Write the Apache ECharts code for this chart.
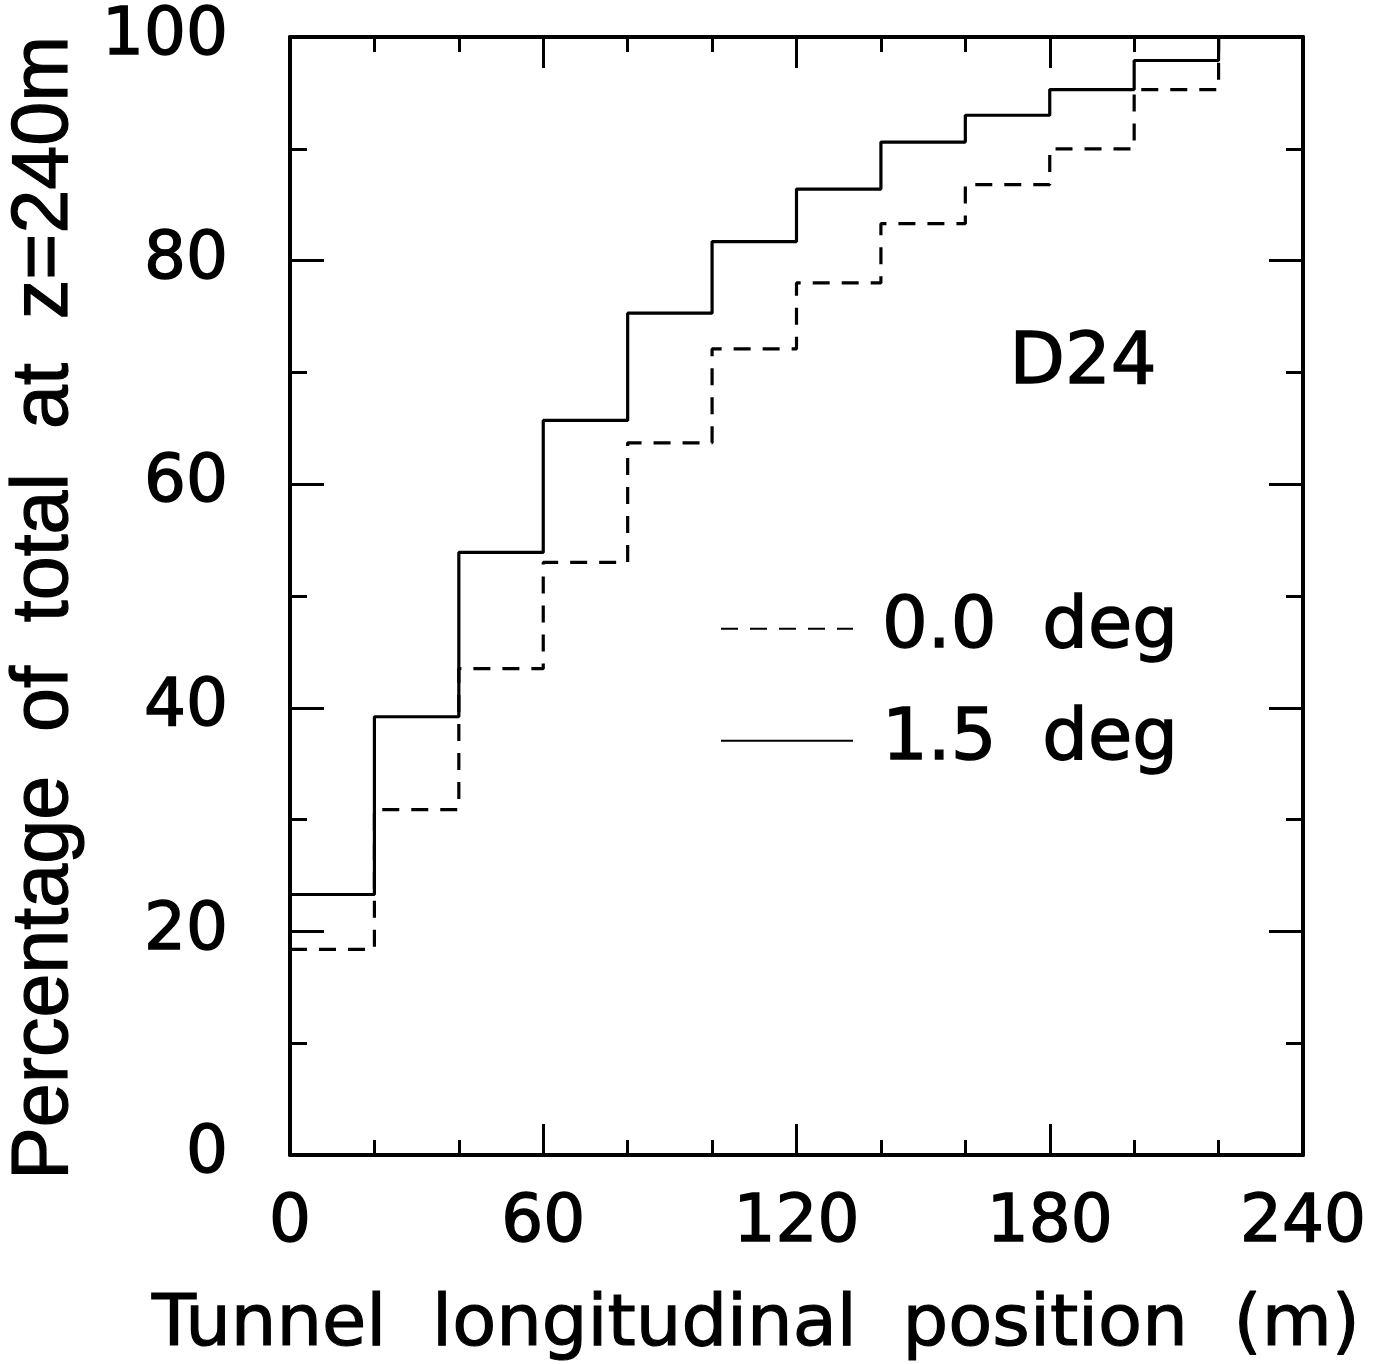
<!DOCTYPE html>
<html><head><meta charset="utf-8">
<script src="https://cdn.jsdelivr.net/npm/echarts@6/dist/echarts.min.js"></script>
<style>html,body{margin:0;padding:0;background:#fff}#chart{width:1383px;height:1364px}</style>
</head><body><div id="chart"></div>
<script>
// ---- data ----
const binEdges = [0,20,40,60,80,100,120,140,160,180,200,220,240];
const deg00 = [18.4,30.9,43.5,53.0,63.7,72.1,78.0,83.3,86.8,90.0,95.3,100];
const deg15 = [23.3,39.2,53.9,65.7,75.3,81.7,86.4,90.6,93.0,95.3,97.9,100];
const seriesNames = ['0.0  deg','1.5  deg'];
const xTitle = 'Tunnel  longitudinal  position  (m)';
const yTitle = 'Percentage  of  total  at  z=240m';
const panelLabel = 'D24';
const xRange = [0, 240];
const yRange = [0, 100];

function stepData(vals){
  const d = vals.map((v,i)=>[binEdges[i], v]);
  d.push([binEdges[binEdges.length-1], vals[vals.length-1]]);
  return d;
}

const FONT = 'DejaVu Sans';
const TB = {textBorderColor:'#000', textBorderWidth:1.4};
const chart = echarts.init(document.getElementById('chart'), null, {renderer:'canvas'});

function axis(kind, position, showLabel){
  const isX = kind === 'x';
  return {
    type:'value', position:position,
    min: isX ? xRange[0] : yRange[0], max: isX ? xRange[1] : yRange[1],
    interval: isX ? 60 : 20,
    axisLine:{show:true, onZero:false, lineStyle:{color:'#000', width:4}},
    axisTick:{show:true, inside:true, length: isX ? 31 : 34, lineStyle:{color:'#000', width:3}},
    minorTick:{show:true, splitNumber: isX ? 3 : 2, length: isX ? 15 : 17, lineStyle:{color:'#000', width:3}},
    splitLine:{show:false}, minorSplitLine:{show:false},
    axisLabel: showLabel ? Object.assign({show:true, margin: isX ? 36 : 62, fontFamily:FONT, fontSize:66, color:'#000'}, TB) : {show:false}
  };
}

const legendCommon = {
  orient:'horizontal', left:720, padding:0, itemWidth:132, itemHeight:70, selectedMode:false,
  itemStyle:{color:'rgba(0,0,0,0)', borderColor:'rgba(0,0,0,0)', borderWidth:0, opacity:0},
  textStyle:Object.assign({fontFamily:FONT, fontSize:72, color:'#000', padding:[0,0,0,24]}, TB)
};

chart.setOption({
  animation:false,
  backgroundColor:'#fff',
  grid:{left:290, right:80, top:37, bottom:209},
  xAxis:[ axis('x','bottom',true), axis('x','top',false) ],
  yAxis:[ axis('y','left',true), axis('y','right',false) ],
  legend:[
    Object.assign({data:[seriesNames[0]], top:592}, legendCommon),
    Object.assign({data:[seriesNames[1]], top:704}, legendCommon)
  ],
  series:[
    {name:seriesNames[0], type:'line', step:'end', symbol:'none', xAxisIndex:0, yAxisIndex:0,
     data:stepData(deg00), lineStyle:{color:'#000', width:3.2, type:[17,12]}, itemStyle:{color:'#000'}},
    {name:seriesNames[1], type:'line', step:'end', symbol:'none', xAxisIndex:0, yAxisIndex:0,
     data:stepData(deg15), lineStyle:{color:'#000', width:3.2, type:'solid'}, itemStyle:{color:'#000'}}
  ],
  graphic:[
    {type:'text', x:756, y:1326, style:Object.assign({text:xTitle, fontFamily:FONT, fontSize:72, fill:'#000', stroke:'#000', lineWidth:1.2, align:'center', verticalAlign:'middle'})},
    {type:'text', x:45, y:608, rotation:Math.PI/2, style:{text:yTitle, fontFamily:'Liberation Sans', fontSize:79, fill:'#000', stroke:'#000', lineWidth:1.2, align:'center', verticalAlign:'middle'}},
    {type:'text', x:1083, y:364, style:{text:panelLabel, fontFamily:FONT, fontSize:72, fill:'#000', stroke:'#000', lineWidth:1.4, align:'center', verticalAlign:'middle'}}
  ]
});
</script>
</body></html>
